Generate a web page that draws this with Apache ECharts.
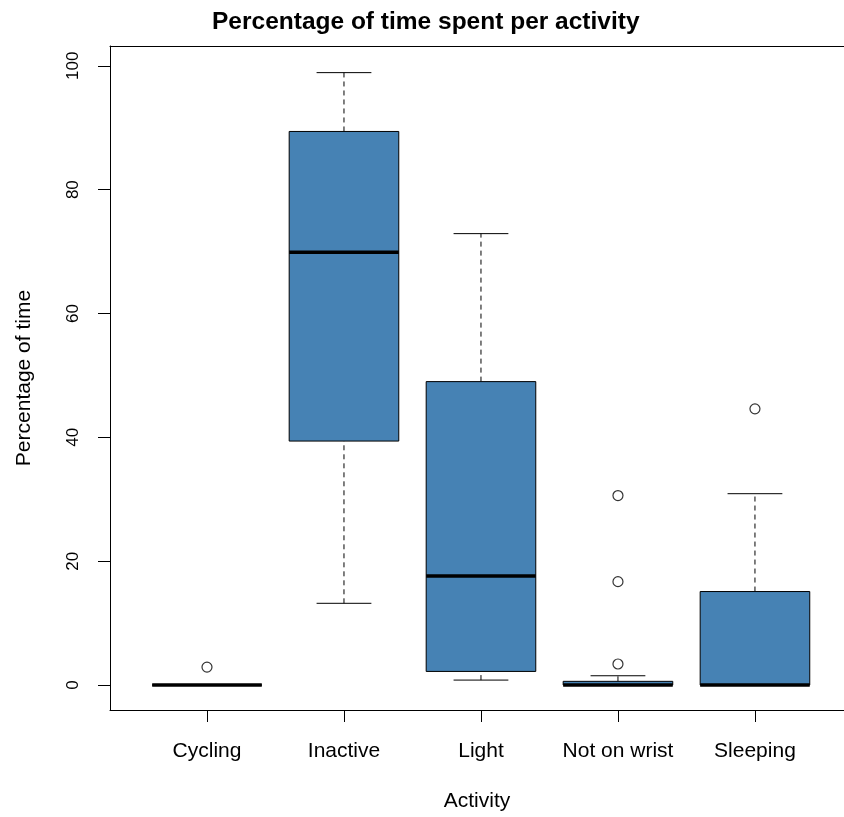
<!DOCTYPE html>
<html>
<head>
	<meta charset="utf-8">
	<title>Percentage of time spent per activity</title>
	<style type="text/css">
		body{
			margin: 0px;
			background: #fff;
		}
		.chart{
			width: 844px;
			height: 817px;
		}
	</style>
	<script type="text/javascript" src="https://cdn.jsdelivr.net/npm/echarts@6.0.0/dist/echarts.min.js"></script>
</head>
<body>
	<div id="chart" class="chart"></div>
	<script type="text/javascript">
		// box statistics per activity (percent of time)
		var categories = ['Cycling', 'Inactive', 'Light', 'Not on wrist', 'Sleeping'];
		var lowerWhisker = [0, 13.2, 0.8, 0, 0];
		var q1 = [0, 39.4, 2.2, 0, 0];
		var median = [0, 69.9, 17.6, 0, 0];
		var q3 = [0, 89.4, 49.0, 0.6, 15.1];
		var upperWhisker = [0, 98.9, 72.9, 1.5, 30.9];
		// outliers: [activity index, value]
		var outlierActivity = [0, 3, 3, 3, 4];
		var outlierValue = [2.9, 3.4, 16.7, 30.6, 44.6];
		var yTicks = [0, 20, 40, 60, 80, 100];

		var font = '"Liberation Sans", Arial, sans-serif';

		window.onload = function(){
			var chart = echarts.init(document.getElementById('chart'));

			var boxData = categories.map(function(name, i){
				return [i + 1, lowerWhisker[i], q1[i], median[i], q3[i], upperWhisker[i]];
			});
			var outlierData = outlierValue.map(function(v, i){
				return [outlierActivity[i] + 1, v];
			});

			function renderBox(params, api){
				var x = api.value(0);
				var pMin = api.coord([x, api.value(1)]);
				var pQ1 = api.coord([x, api.value(2)]);
				var pMed = api.coord([x, api.value(3)]);
				var pQ3 = api.coord([x, api.value(4)]);
				var pMax = api.coord([x, api.value(5)]);
				var left = api.coord([x - 0.4, 0])[0];
				var right = api.coord([x + 0.4, 0])[0];
				var capL = api.coord([x - 0.2, 0])[0];
				var capR = api.coord([x + 0.2, 0])[0];
				var cx = pMed[0];
				var dashed = {stroke: '#000', lineWidth: 1, lineDash: [5, 4]};
				var solid = {stroke: '#000', lineWidth: 1};
				return {
					type: 'group',
					children: [
						{type: 'line', shape: {x1: cx, y1: pQ3[1], x2: cx, y2: pMax[1]}, style: dashed},
						{type: 'line', shape: {x1: cx, y1: pMin[1], x2: cx, y2: pQ1[1]}, style: dashed},
						{type: 'line', shape: {x1: capL, y1: pMax[1], x2: capR, y2: pMax[1]}, style: solid},
						{type: 'line', shape: {x1: capL, y1: pMin[1], x2: capR, y2: pMin[1]}, style: solid},
						{
							type: 'rect',
							shape: {x: left, y: pQ3[1], width: right - left, height: pQ1[1] - pQ3[1]},
							style: {fill: '#4682B4', stroke: '#000', lineWidth: 1}
						},
						{type: 'line', shape: {x1: left, y1: pMed[1], x2: right, y2: pMed[1]}, style: {stroke: '#000', lineWidth: 3.5}}
					]
				};
			}

			chart.setOption({
				animation: false,
				backgroundColor: '#fff',
				title: {
					text: 'Percentage of time spent per activity',
					left: 207,
					top: 5,
					textStyle: {
						fontFamily: font,
						fontWeight: 'bold',
						fontSize: 24.5,
						color: '#000'
					}
				},
				grid: {
					left: 110,
					right: 0,
					top: 46,
					bottom: 102,
					containLabel: false
				},
				xAxis: [{
					type: 'value',
					min: 0.292,
					max: 5.65,
					name: 'Activity',
					nameLocation: 'middle',
					nameGap: 81,
					nameTextStyle: {fontFamily: font, fontSize: 21, color: '#000'},
					axisLine: {show: true, onZero: false, lineStyle: {color: '#000', width: 1}},
					splitLine: {show: false},
					axisTick: {
						show: true,
						length: 12,
						customValues: [1, 2, 3, 4, 5],
						lineStyle: {color: '#000'}
					},
					axisLabel: {
						customValues: [1, 2, 3, 4, 5],
						margin: 31,
						fontFamily: font,
						fontSize: 21,
						color: '#000',
						formatter: function(v){
							return categories[Math.round(v) - 1];
						}
					}
				}, {
					// top frame line
					type: 'value',
					position: 'top',
					min: 0.292,
					max: 5.65,
					axisLine: {show: true, onZero: false, lineStyle: {color: '#000', width: 1}},
					axisTick: {show: false},
					axisLabel: {show: false},
					splitLine: {show: false}
				}],
				yAxis: {
					type: 'value',
					min: -4.03,
					max: 103.2,
					name: 'Percentage of time',
					nameLocation: 'middle',
					nameGap: 75,
					nameTextStyle: {fontFamily: font, fontSize: 21, color: '#000'},
					axisLine: {show: true, onZero: false, lineStyle: {color: '#000', width: 1}},
					splitLine: {show: false},
					axisTick: {
						show: true,
						length: 12,
						customValues: yTicks,
						lineStyle: {color: '#000'}
					},
					axisLabel: {
						customValues: yTicks,
						rotate: 90,
						margin: 28,
						fontFamily: font,
						fontSize: 17,
						color: '#000'
					}
				},
				series: [{
					type: 'custom',
					renderItem: renderBox,
					data: boxData,
					encode: {x: 0, y: [1, 2, 3, 4, 5]},
					z: 2
				}, {
					type: 'scatter',
					data: outlierData,
					symbol: 'circle',
					symbolSize: 10,
					itemStyle: {color: '#fff', borderColor: '#000', borderWidth: 1.2},
					z: 3
				}]
			});
		};
	</script>
</body>
</html>
